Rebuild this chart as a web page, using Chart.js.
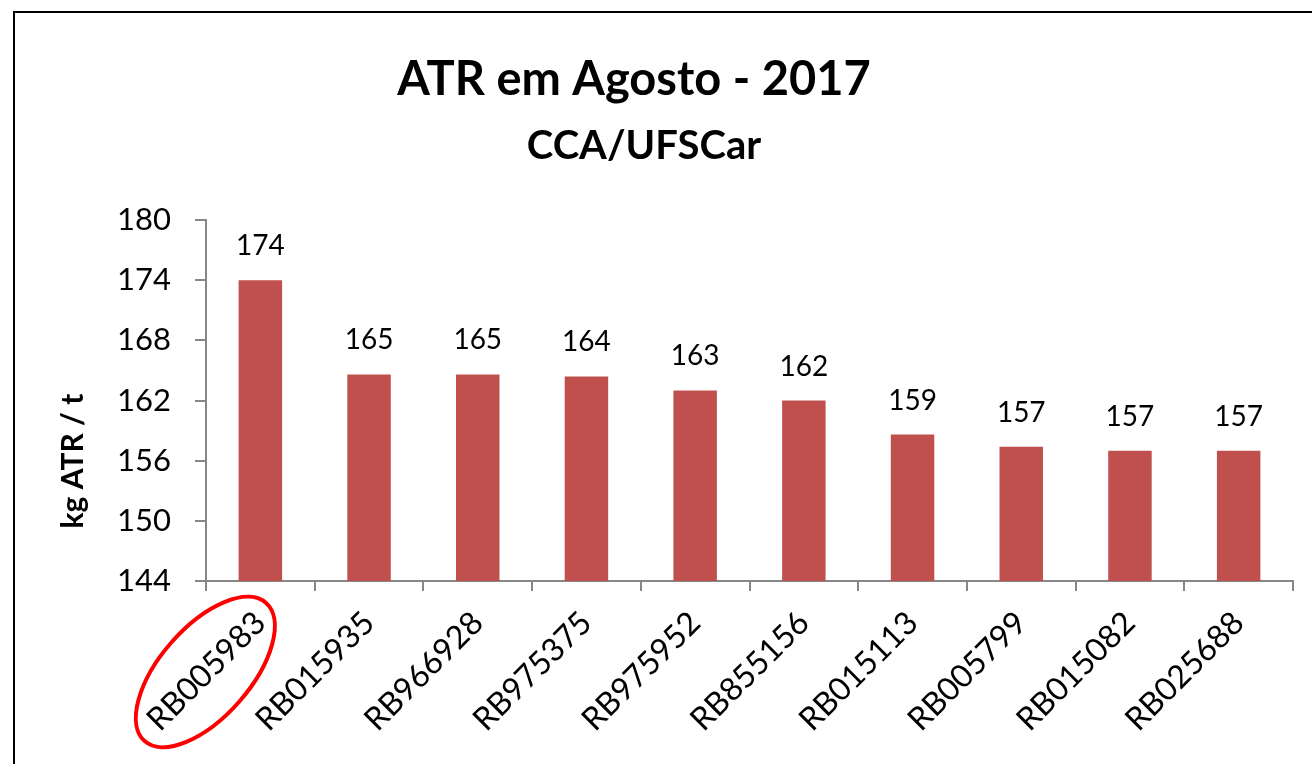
<!DOCTYPE html>
<html>
<head>
<meta charset="utf-8">
<script src="https://cdn.jsdelivr.net/npm/chart.js@4.4.0/dist/chart.umd.min.js"></script>
<style>
  html, body { margin: 0; padding: 0; background: #ffffff; }
  #wrap { width: 1312px; height: 764px; position: relative; }
</style>
</head>
<body>
<div id="wrap"><canvas id="c" width="1312" height="764"></canvas></div>
<script>
// Varieties of sugarcane and their ATR (kg ATR per tonne) in August 2017
const varieties = ['RB005983', 'RB015935', 'RB966928', 'RB975375', 'RB975952',
                   'RB855156', 'RB015113', 'RB005799', 'RB015082', 'RB025688'];
const atrValues = [174.0, 164.6, 164.6, 164.4, 163.0, 162.0, 158.6, 157.4, 157.0, 157.0];
const yTicks = [144, 150, 156, 162, 168, 174, 180];

const titleText = 'ATR em Agosto - 2017';
const subtitleText = 'CCA/UFSCar';
const yAxisTitle = 'kg ATR / t';
const highlighted = 'RB005983';

const FONT = 'Lato, "Open Sans", sans-serif';
const AXIS_GREY = '#878787';
const BAR_RED = '#C0504D';

// Frame, titles, axis title, value labels and highlight ellipse
const decorations = {
  id: 'decorations',
  beforeDraw(chart) {
    const ctx = chart.ctx;
    ctx.save();
    ctx.fillStyle = '#ffffff';
    ctx.fillRect(0, 0, chart.width, chart.height);
    ctx.strokeStyle = '#000000';
    ctx.lineWidth = 2;
    ctx.strokeRect(14, 12, chart.width + 40, chart.height + 40);

    ctx.fillStyle = '#000000';
    ctx.textAlign = 'center';
    ctx.textBaseline = 'alphabetic';
    ctx.font = 'bold 47px ' + FONT;
    ctx.fillText(titleText, 634, 95);
    ctx.font = 'bold 40px ' + FONT;
    ctx.fillText(subtitleText, 644, 159);

    ctx.translate(83, 461);
    ctx.rotate(-Math.PI / 2);
    ctx.font = 'bold 30px ' + FONT;
    ctx.fillText(yAxisTitle, 0, 0);
    ctx.restore();
  },
  afterDatasetsDraw(chart) {
    const ctx = chart.ctx;
    const meta = chart.getDatasetMeta(0);
    ctx.save();
    ctx.fillStyle = '#000000';
    ctx.font = '28px ' + FONT;
    ctx.textAlign = 'center';
    ctx.textBaseline = 'alphabetic';
    meta.data.forEach((bar, i) => {
      ctx.fillText(String(Math.round(atrValues[i])), bar.x, bar.y - 25);
    });
    ctx.restore();
  },
  afterDraw(chart) {
    const ctx = chart.ctx;
    const xScale = chart.scales.x;
    const idx = varieties.indexOf(highlighted);
    const cx = xScale.getPixelForValue(idx) - 55;
    ctx.save();
    ctx.strokeStyle = '#FF0000';
    ctx.lineWidth = 4;
    ctx.beginPath();
    ctx.ellipse(cx, 672, 92, 45, -0.85, 0, Math.PI * 2);
    ctx.stroke();
    ctx.restore();
  }
};

new Chart(document.getElementById('c'), {
  type: 'bar',
  data: {
    labels: varieties,
    datasets: [{
      data: atrValues,
      backgroundColor: BAR_RED,
      borderWidth: 0,
      barPercentage: 0.4,
      categoryPercentage: 1.0
    }]
  },
  options: {
    responsive: false,
    devicePixelRatio: 1,
    animation: false,
    layout: { padding: { left: 0, top: 220, right: 19, bottom: 0 } },
    plugins: {
      legend: { display: false },
      title: { display: false },
      tooltip: { enabled: false }
    },
    scales: {
      y: {
        min: 144,
        max: 180,
        afterFit(scale) { scale.width = 206; },
        afterBuildTicks(scale) { scale.ticks = yTicks.map(v => ({ value: v })); },
        ticks: {
          color: '#000000',
          font: { family: FONT, size: 31 },
          padding: 24
        },
        grid: {
          drawOnChartArea: false,
          drawTicks: true,
          tickLength: 11,
          color: AXIS_GREY,
          lineWidth: 2
        },
        border: { display: true, color: AXIS_GREY, width: 2 }
      },
      x: {
        afterFit(scale) { scale.height = 183; },
        ticks: {
          color: '#000000',
          font: { family: FONT, size: 32 },
          minRotation: 45,
          maxRotation: 45,
          padding: 13,
          autoSkip: false
        },
        grid: {
          offset: true,
          drawOnChartArea: false,
          drawTicks: true,
          tickLength: 10,
          color: AXIS_GREY,
          lineWidth: 2
        },
        border: { display: true, color: AXIS_GREY, width: 2 }
      }
    }
  },
  plugins: [decorations]
});
</script>
</body>
</html>
